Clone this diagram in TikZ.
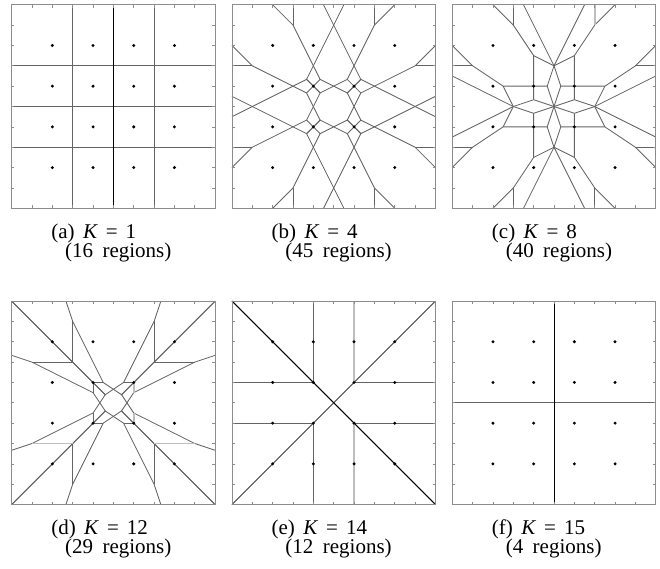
\documentclass[tikz,border=0pt]{standalone}
\usepackage{fontspec}
\setmainfont{Liberation Serif}
\usepackage{tikz}
\usetikzlibrary{calc}
\definecolor{cellgray}{RGB}{100,100,100}
\definecolor{framegray}{RGB}{140,140,140}
\definecolor{fadegray}{RGB}{190,190,190}

\tikzset{
  cellline/.style={cellgray, line width=0.85pt},
  darkline/.style={black, line width=0.9pt},
  fadeline/.style={fadegray, line width=1.6pt},
  subcap/.style={anchor=base west, inner sep=0pt, font=\fontsize{21}{24}\selectfont}
}

% one octant of edges, repeated under the 8 symmetries of the square
\newcommand{\eightfold}[1]{%
  \foreach \sx in {1,-1}{\foreach \sy in {1,-1}{%
    \draw[cellline, xscale=\sx, yscale=\sy] #1;
    \draw[cellline, xscale=\sx, yscale=\sy, cm={0,1,1,0,(0,0)}] #1;
  }}}

\newcommand{\panelbox}{%
  \draw[framegray, line width=0.9pt] (-2.5,-2.5) rectangle (2.5,2.5);
  \foreach \t in {-2,-1.5,...,2}{
    \draw[framegray, line width=0.7pt] (\t,-2.5) -- (\t,-2.43) (\t,2.5) -- (\t,2.43)
      (-2.5,\t) -- (-2.43,\t) (2.5,\t) -- (2.43,\t);
  }}

\newcommand{\gridpoints}{%
  \foreach \px in {-1.5,-0.5,0.5,1.5}{\foreach \py in {-1.5,-0.5,0.5,1.5}{
    \fill (\px,\py) circle (1.65pt);
  }}}

\begin{document}
\begin{tikzpicture}[x=40.7pt, y=40.7pt]
  \useasboundingbox (0,0) rectangle (16.216,-13.956);

  % (a) K = 1
  \begin{scope}[shift={(2.786,-2.617)}]
    \foreach \c in {-1,1} {
      \draw[cellline] (\c,-2.5) -- (\c,2.5);
      \draw[cellline] (-2.5,\c) -- (2.5,\c);
    }
    \draw[cellline] (-2.5,0) -- (2.5,0);
    \draw[darkline] (0,-2.5) -- (0,2.5);
  \end{scope}

  % (b) K = 4
  \begin{scope}[shift={(8.199,-2.617)}]
    \eightfold{(0.5,0) -- (1/3,1/3) -- (2/3,2/3) -- (2,0) -- (2.5,0.25)}
    \eightfold{(0.5,0) -- (2/3,1/3) -- (2,1) -- (2.5,1.5)}
    \eightfold{(2/3,1/3) -- (0.5,0.5)}
    \eightfold{(2,1) -- (2.5,1)}
  \end{scope}

  % (c) K = 8
  \begin{scope}[shift={(13.612,-2.617)}]
    \eightfold{(0,0) -- (0.5,1/6) -- (1,0) -- (2.5,0.75)}
    \eightfold{(0.5,1/6) -- (0.5,0.5) -- (1.25,0.5) -- (2,1) -- (2.5,1.5)}
    \eightfold{(1,0) -- (1.25,0.5)}
    \eightfold{(2,1) -- (2.5,1)}
    \draw[fadeline] (1,2) -- (1,2.5);
  \end{scope}

  % (d) K = 12
  \begin{scope}[shift={(2.786,-9.897)}]
    \eightfold{(1/3,0) -- (0.2,0.2) -- (2.5,2.5)}
    \eightfold{(1/3,0) -- (0.5,0.25) -- (2,1) -- (2.5,7/6)}
    \eightfold{(0.5,0.25) -- (0.5,0.5)}
    \eightfold{(1,1) -- (2,1)}
    \draw[fadeline] (-2,-1) -- (-1,-1) (1,-1) -- (2,-1);
    \draw[fadeline] (0.5,0.25) -- (0.5,0.5) (0.5,-0.25) -- (0.5,-0.5);
  \end{scope}

  % (e) K = 14
  \begin{scope}[shift={(8.199,-9.897)}]
    \eightfold{(0,0) -- (2.5,2.5)}
    \eightfold{(0.5,0.5) -- (2.5,0.5)}
    \draw[darkline] (-2.5,2.5) -- (2.5,-2.5);
    \draw[fadeline] (0.5,0.5) -- (0.5,2.5) (0.5,-0.5) -- (0.5,-2.5);
    \draw[cellgray, line width=1.3pt] (-2.5,0.5) -- (-0.5,0.5) (0.5,0.5) -- (2.5,0.5);
  \end{scope}

  % (f) K = 15
  \begin{scope}[shift={(13.612,-9.897)}]
    \draw[cellline] (-2.5,0) -- (2.5,0);
    \draw[darkline] (0,-2.5) -- (0,2.5);
  \end{scope}

  % Frames, ticks, sample points and captions
  \foreach \cx/\cy/\lab/\kval/\nreg in {
    2.786/-2.617/a/1/16, 8.199/-2.617/b/4/45, 13.612/-2.617/c/8/40,
    2.786/-9.897/d/12/29, 8.199/-9.897/e/14/12, 13.612/-9.897/f/15/4} {
    \begin{scope}[shift={(\cx,\cy)}]
      \panelbox
      \gridpoints
      \node[subcap] (cap\lab) at (-1.53,-3.24)
        {(\lab)\hspace{0.4em}\textit{K}\hspace{0.38em}=\hspace{0.38em}\kval};
      \node[subcap] (reg\lab) at (-1.19,-3.71) {(\nreg\hspace{0.45em}regions)};
    \end{scope}
  }
\end{tikzpicture}
\end{document}
